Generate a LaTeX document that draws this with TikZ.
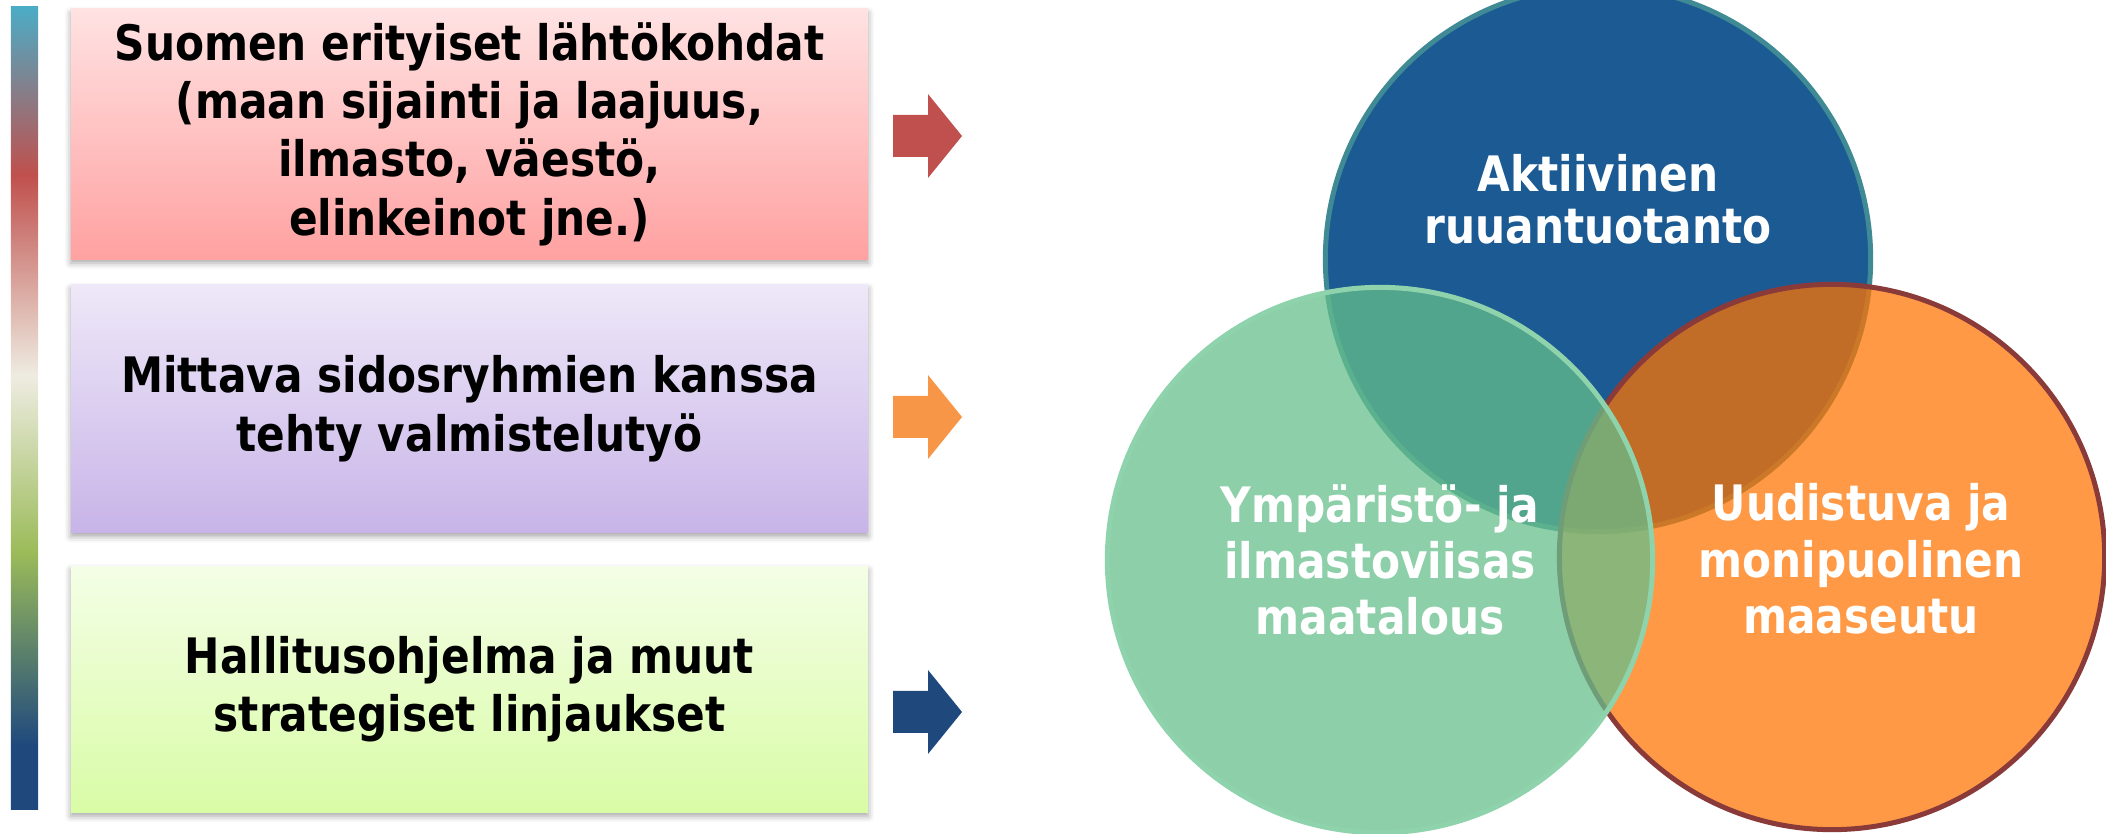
\documentclass[tikz,border=0pt]{standalone}
\usepackage{fontspec}
\newfontfamily\diafont{DejaVu Sans}[FakeStretch=0.865]
\usetikzlibrary{positioning, shadows.blur}
\definecolor{bar_teal}{HTML}{4BACC6}
\definecolor{bar_red}{HTML}{C0504D}
\definecolor{bar_beige}{HTML}{EEECE1}
\definecolor{bar_green}{HTML}{9BBB59}
\definecolor{bar_blue}{HTML}{1F497D}
\definecolor{arrow_orange}{HTML}{F79646}
\definecolor{pink_top}{HTML}{FFE2E2}
\definecolor{pink_bottom}{HTML}{FFA1A1}
\definecolor{lilac_top}{HTML}{EEE8F8}
\definecolor{lilac_bottom}{HTML}{C8B4E8}
\definecolor{lime_top}{HTML}{F4FEE6}
\definecolor{lime_bottom}{HTML}{D9FCA6}
\definecolor{venn_blue}{HTML}{1B5A93}
\definecolor{venn_blueline}{HTML}{3F8A94}
\definecolor{venn_orange}{HTML}{FF7300}
\definecolor{venn_orangeline}{HTML}{8B3A3A}
\definecolor{venn_green}{HTML}{65BF8C}
\definecolor{venn_greenline}{HTML}{8ED3AB}
\pgfdeclareverticalshading{sidebar}{100bp}{color(0bp)=(bar_blue); color(25bp)=(bar_blue); color(29bp)=(bar_blue); color(41bp)=(bar_green); color(52bp)=(bar_beige); color(64.5bp)=(bar_red); color(75bp)=(bar_teal); color(100bp)=(bar_teal)}
\tikzstyle{infobox} = [rectangle, minimum width=7.97cm, align=center, text=black, font=\diafont\bfseries\fontsize{13.9pt}{16.6pt}\selectfont, blur shadow={shadow xshift=0cm, shadow yshift=-0.04cm, shadow blur radius=0.06cm, shadow opacity=35}]
\tikzstyle{venn} = [circle, minimum size=5.45cm, line width=0.05cm]
\tikzstyle{venntext} = [align=center, text=white, font=\diafont\bfseries\fontsize{13.9pt}{16pt}\selectfont]

\begin{document}
\begin{tikzpicture}[x=0.01cm, y=-0.01cm]
        \useasboundingbox (0,0) rectangle (2106,834);
        \node (sidebar) [rectangle, shade, shading=sidebar, inner sep=0pt, minimum width=0.27cm, minimum height=8.02cm] at (24.5,408) {};
        \node (origins) [infobox, minimum height=2.5cm, top color=pink_top, bottom color=pink_bottom] at (469.5,134) {Suomen erityiset lähtökohdat\\(maan sijainti ja laajuus,\\ilmasto, väestö,\\elinkeinot jne.)};
        \node (stakeholders) [infobox, minimum height=2.48cm, top color=lilac_top, bottom color=lilac_bottom, below=0.24cm of origins] {Mittava sidosryhmien kanssa\\tehty valmistelutyö};
        \node (programme) [infobox, minimum height=2.46cm, top color=lime_top, bottom color=lime_bottom, below=0.32cm of stakeholders] {Hallitusohjelma ja muut\\strategiset linjaukset};
        % block arrows
        \foreach \name/\ypos/\col in {arrowA/136/bar_red, arrowB/417/arrow_orange, arrowC/712/bar_blue} {
            \coordinate (\name) at (893,\ypos);
            \fill[\col] (\name) ++(0,-21) -- ++(35,0) -- ++(0,-21) -- ++(34,42) -- ++(-34,42) -- ++(0,-21) -- ++(-35,0) -- cycle;
        }
        % the three circles
        \node (food) [venn, fill=venn_blue, draw=venn_blueline] at (1598,259) {};
        \node (rural) [venn, fill=venn_orange, fill opacity=0.73, draw=venn_orangeline] at (1832,557) {};
        \node (climate) [venn, fill=venn_green, fill opacity=0.745, draw=venn_greenline] at (1380,560) {};
        \node (foodtext) [venntext, font=\diafont\bfseries\fontsize{13.9pt}{14.8pt}\selectfont] at ([yshift=0.6cm]food.center) {Aktiivinen\\ruuantuotanto};
        \node (climatetext) [venntext] at (climate.center) {Ympäristö- ja\\ilmastoviisas\\maatalous};
        \node (ruraltext) [venntext] at ([xshift=0.29cm, yshift=-0.02cm]rural.center) {Uudistuva ja\\monipuolinen\\maaseutu};
    \end{tikzpicture}
\end{document}
